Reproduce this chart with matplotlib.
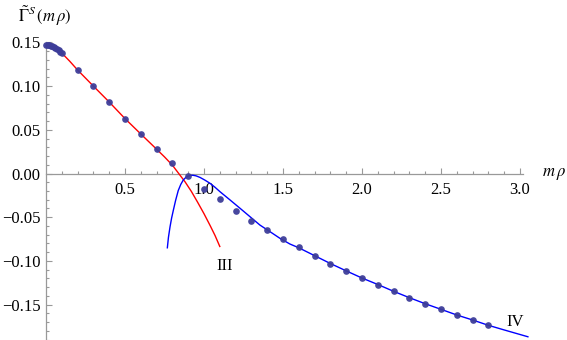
import numpy as np
import matplotlib.pyplot as plt
from matplotlib.ticker import MultipleLocator, FixedLocator

plt.rcParams['font.family'] = ['Liberation Serif', 'DejaVu Serif']
plt.rcParams['mathtext.fontset'] = 'stix'

# numerical points
pts_x = [0.00, 0.01, 0.02, 0.03, 0.04, 0.05, 0.06, 0.07, 0.08, 0.09, 0.10,
         0.2, 0.3, 0.4, 0.5, 0.6, 0.7, 0.8, 0.9, 1.0, 1.1, 1.2, 1.3, 1.4,
         1.5, 1.6, 1.7, 1.8, 1.9, 2.0, 2.1, 2.2, 2.3, 2.4, 2.5, 2.6, 2.7, 2.8]
pts_y = [0.1470, 0.1469, 0.1466, 0.1461, 0.1455, 0.1446, 0.1436, 0.1424, 0.1410, 0.1394, 0.1376,
         0.1184, 0.1000, 0.0820, 0.0624, 0.0450, 0.0280, 0.0117, -0.0030, -0.0175, -0.0295,
         -0.0428, -0.0540, -0.0646, -0.0750, -0.0845, -0.0940, -0.1032, -0.1116, -0.1196,
         -0.1270, -0.1348, -0.1421, -0.1490, -0.1554, -0.1619, -0.1676, -0.1737]

# curve III (small m rho)
red_x = [0.00, 0.05, 0.10, 0.15, 0.20, 0.30, 0.40, 0.50, 0.60, 0.70, 0.75, 0.80,
         0.84, 0.88, 0.92, 0.96, 1.00, 1.04, 1.07, 1.10]
red_y = [0.1470, 0.1448, 0.1378, 0.1285, 0.1184, 0.1000, 0.0818, 0.0628, 0.0452, 0.0278,
         0.0190, 0.0095, 0.0000, -0.0095, -0.0205, -0.0330, -0.0460, -0.0600, -0.0710, -0.0835]

# curve IV (large m rho)
blue_x = [0.768, 0.775, 0.785, 0.795, 0.806, 0.820, 0.837, 0.853, 0.869, 0.885, 0.900,
          0.915, 0.930, 0.950, 0.975, 1.005, 1.038, 1.070, 1.101, 1.165, 1.228, 1.291,
          1.354, 1.418, 1.481, 1.544, 1.60, 1.70, 1.80, 1.90, 2.00, 2.10, 2.20, 2.30,
          2.40, 2.50, 2.60, 2.70, 2.80, 2.90, 3.00, 3.05]
blue_y = [-0.0850, -0.0730, -0.0610, -0.0510, -0.0420, -0.0310, -0.0195, -0.0125, -0.0074,
          -0.0045, -0.0029, -0.0021, -0.0020, -0.0027, -0.0045, -0.0075, -0.0112, -0.0158,
          -0.0208, -0.0303, -0.0398, -0.0494, -0.0590, -0.0666, -0.0742, -0.0807, -0.0850,
          -0.0940, -0.1030, -0.1114, -0.1196, -0.1270, -0.1348, -0.1421, -0.1490, -0.1554,
          -0.1619, -0.1676, -0.1737, -0.1790, -0.1842, -0.1868]

fig = plt.figure(figsize=(5.67, 3.40), dpi=100)
ax = fig.add_axes([46 / 567, 0.0, 521 / 567, (340 - 42.4) / 340])
ax.set_xlim(0, 521 / 158)
ax.set_ylim(-0.1905, 0.150)

ax.plot(red_x, red_y, color='red', lw=1.0, zorder=3)
ax.plot(blue_x, blue_y, color='blue', lw=1.0, zorder=3)
ax.plot(pts_x, pts_y, 'o', color='#3d3d99', ms=4.8, mec='none', alpha=0.95,
        zorder=4, clip_on=False)

ax.text(1.133, -0.106, 'III', fontsize=12, ha='center', va='center')
ax.text(2.97, -0.170, 'IV', fontsize=12, ha='center', va='center')

for s in ['top', 'right']:
    ax.spines[s].set_visible(False)
ax.spines['bottom'].set_position(('data', 0))
ax.spines['bottom'].set_bounds(0, 3.02)
ax.spines['left'].set_bounds(-0.1905, 0.150)
for s in ['bottom', 'left']:
    ax.spines[s].set_color('#999999')
    ax.spines[s].set_linewidth(0.9)

ax.xaxis.set_major_locator(FixedLocator([0.5, 1.0, 1.5, 2.0, 2.5, 3.0]))
ax.xaxis.set_minor_locator(FixedLocator([v / 10 for v in range(1, 31)]))
ax.yaxis.set_major_locator(FixedLocator([-0.15, -0.10, -0.05, 0.0, 0.05, 0.10, 0.15]))
ax.yaxis.set_minor_locator(FixedLocator([v / 100 for v in range(-19, 15)]))
ax.set_xticklabels(['0.5', '1.0', '1.5', '2.0', '2.5', '3.0'])
ax.set_yticklabels(['\u22120.15', '\u22120.10', '\u22120.05', '0.00', '0.05', '0.10', '0.15'])
ax.tick_params(which='both', direction='in', color='#999999', width=0.8, labelsize=12)
ax.tick_params(which='major', length=4)
ax.tick_params(which='minor', length=2.2)
ax.tick_params(axis='x', pad=6)
ax.tick_params(axis='y', pad=4)

ax.text(3.14, 0.0, r'$m\,\rho$', fontsize=12, ha='left', va='center')
fig.text(18 / 567, 1 - 16 / 340, r'$\tilde{\Gamma}^{S}\,(m\,\rho)$', fontsize=12,
         ha='left', va='center')

fig.savefig('out.png', dpi=100)
